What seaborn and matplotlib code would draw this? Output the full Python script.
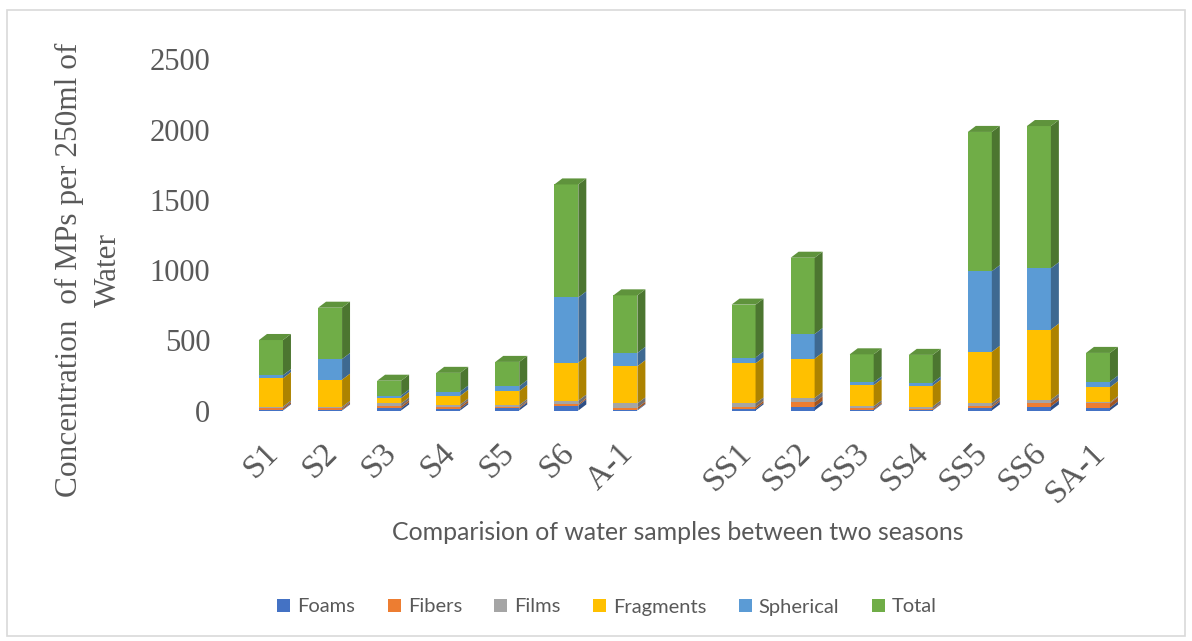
import numpy as np
import pandas as pd
import seaborn as sns
import matplotlib
matplotlib.use("Agg")
import matplotlib.pyplot as plt
import matplotlib.transforms as mtransforms
from matplotlib.patches import Patch, Rectangle, Polygon
import matplotlib.colors as mcolors

# Sampling sites (first season, then second season)
sites = ["S1", "S2", "S3", "S4", "S5", "S6", "A-1",
         "SS1", "SS2", "SS3", "SS4", "SS5", "SS6", "SA-1"]

# Microplastic counts per 250 ml of water, by particle type
foams = [5, 5, 15, 12, 15, 35, 5, 10, 25, 5, 3, 20, 28, 20]
fibers = [12, 10, 15, 15, 8, 10, 15, 15, 33, 10, 7, 12, 24, 30]
films = [10, 10, 20, 15, 15, 25, 30, 25, 31, 15, 18, 20, 24, 8]
fragments = [202, 194, 38, 62, 100, 270, 265, 285, 280, 150, 148, 365, 500, 107]
spherical = [22, 147, 18, 30, 35, 465, 95, 42, 175, 20, 22, 575, 437, 40]
total = [251, 366, 106, 134, 173, 805, 410, 377, 544, 200, 198, 992, 1013, 205]

series_names = ["Foams", "Fibers", "Films", "Fragments", "Spherical", "Total"]
series_values = [foams, fibers, films, fragments, spherical, total]
series_colors = ["#4472C4", "#ED7D31", "#A5A5A5", "#FFC000", "#5B9BD5", "#70AD47"]

# An empty slot separates the two seasons on the category axis
gap = " "
order = sites[:7] + [gap] + sites[7:]

df = pd.DataFrame({"site": sites})
for name, vals in zip(series_names, series_values):
    df[name] = vals
cum = df[series_names].cumsum(axis=1)
bottoms = cum.shift(1, axis=1).fillna(0)

SERIF = "Liberation Serif"
SANS = "Lato"
GREY = "#595959"

sns.set_theme(style="white")
plt.rcParams["font.family"] = [SERIF, "DejaVu Serif"]

W, H = 1192, 641
fig = plt.figure(figsize=(W / 100, H / 100), dpi=100)
ax_left, ax_right, ax_bottom, ax_top = 245, 1150, 410.5, 59.5
ax = fig.add_axes([ax_left / W, (H - ax_bottom) / H,
                   (ax_right - ax_left) / W, (ax_bottom - ax_top) / H])

slot = 59.07
x0 = (ax_left - 271) / slot
x1 = (ax_right - 271) / slot

bar_w = 0.406
depth_x = 0.135          # receding depth of the pseudo-3D blocks (category units)
depth_y = 43             # vertical rise of the depth (value units)

def shade(color, f):
    r, g, b = mcolors.to_rgb(color)
    return (r * f, g * f, b * f)

# Stack drawn from the tallest cumulative layer down, each layer covering the previous
for k in range(len(series_names) - 1, -1, -1):
    name = series_names[k]
    layer = pd.DataFrame({"site": df["site"], "value": cum[name]})
    n_before = len(ax.patches)
    sns.barplot(data=layer, x="site", y="value", order=order, color=series_colors[k],
                saturation=1, errorbar=None, width=bar_w, ax=ax, linewidth=0)
    for p in ax.patches[n_before:]:
        h = p.get_height()
        if not np.isfinite(h) or h <= 0:
            continue
        cx = p.get_x() + p.get_width() / 2
        idx = int(round(cx))
        site = order[idx]
        row = df.index[df["site"] == site][0]
        lo = bottoms.loc[row, name]
        hi = cum.loc[row, name]
        xr = p.get_x() + p.get_width()
        side = Polygon([(xr, lo), (xr + depth_x, lo + depth_y),
                        (xr + depth_x, hi + depth_y), (xr, hi)],
                       closed=True, facecolor=shade(series_colors[k], 0.68),
                       edgecolor="none", zorder=p.get_zorder())
        ax.add_patch(side)
        if k == len(series_names) - 1:
            xl = p.get_x()
            top = Polygon([(xl, hi), (xl + depth_x, hi + depth_y),
                           (xr + depth_x, hi + depth_y), (xr, hi)],
                          closed=True, facecolor=shade(series_colors[k], 0.85),
                          edgecolor="none", zorder=p.get_zorder() + 0.5)
            ax.add_patch(top)

ax.set_xlim(x0, x1)
ax.set_ylim(0, 2500)
ax.set_yticks([0, 500, 1000, 1500, 2000, 2500])
ax.set_xlabel("")
ax.set_ylabel("")
for s in ax.spines.values():
    s.set_visible(False)
ax.grid(False)
ax.tick_params(axis="both", length=0)
ax.tick_params(axis="y", pad=25, labelsize=22, labelcolor=GREY)
ax.tick_params(axis="x", pad=27, labelsize=24, labelcolor=GREY)
for lbl in ax.get_yticklabels():
    lbl.set_fontfamily(SERIF)
shift = mtransforms.ScaledTranslation(3 / 100, 0, fig.dpi_scale_trans)
for lbl in ax.get_xticklabels():
    lbl.set_fontfamily(SERIF)
    lbl.set_rotation(45)
    lbl.set_ha("right")
    lbl.set_rotation_mode("anchor")
    lbl.set_va("center")
    lbl.set_transform(lbl.get_transform() + shift)

fig.text(89 / W, 1 - 270 / H, "Concentration  of MPs per 250ml of\nWater",
         rotation=90, ha="center", va="center", multialignment="center",
         fontsize=22.5, color=GREY, family=SERIF, linespacing=1.45)

fig.text(678 / W, 1 - 532 / H, "Comparision of water samples between two seasons",
         ha="center", va="center", fontsize=17.9, color=GREY, family=SANS)

handles = [Patch(facecolor=c, edgecolor="none", label=n)
           for n, c in zip(series_names, series_colors)]
leg = fig.legend(handles=handles, loc="center", bbox_to_anchor=(607 / W, 1 - 607 / H),
                 ncol=6, frameon=False, handlelength=0.65,
                 handleheight=0.65, handletextpad=0.35, columnspacing=1.6,
                 prop={"family": SANS, "size": 14.5})
for t in leg.get_texts():
    t.set_color(GREY)

fig.patches.append(Rectangle((7 / W, 5 / H), 1 - 14 / W, 1 - 15 / H,
                             transform=fig.transFigure, fill=False,
                             edgecolor="#D9D9D9", linewidth=1.2))

fig.savefig("out.png", dpi=100, facecolor="white")
